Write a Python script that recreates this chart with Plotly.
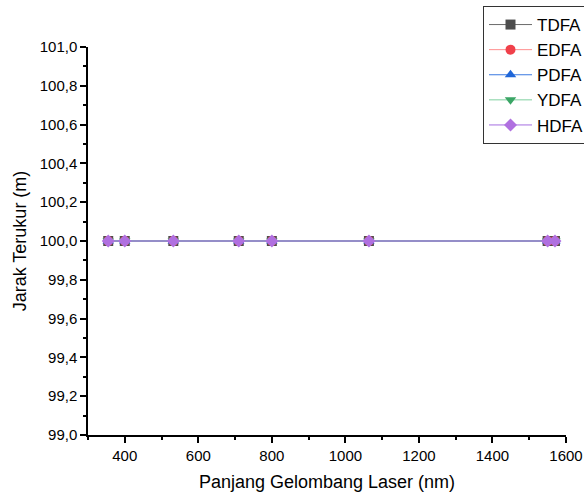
import plotly.graph_objects as go

wavelengths = [355, 400, 532, 710, 800, 1064, 1550, 1570]
series_names = ["TDFA", "EDFA", "PDFA", "YDFA", "HDFA"]
tdfa = [100.0, 100.0, 100.0, 100.0, 100.0, 100.0, 100.0, 100.0]
edfa = [100.0, 100.0, 100.0, 100.0, 100.0, 100.0, 100.0, 100.0]
pdfa = [100.0, 100.0, 100.0, 100.0, 100.0, 100.0, 100.0, 100.0]
ydfa = [100.0, 100.0, 100.0, 100.0, 100.0, 100.0, 100.0, 100.0]
hdfa = [100.0, 100.0, 100.0, 100.0, 100.0, 100.0, 100.0, 100.0]
x_ticks = [400, 600, 800, 1000, 1200, 1400, 1600]
y_ticks = [99.0, 99.2, 99.4, 99.6, 99.8, 100.0, 100.2, 100.4, 100.6, 100.8, 101.0]

series_values = [tdfa, edfa, pdfa, ydfa, hdfa]
marker_colors = ["#4d4d4d", "#f0404a", "#1f66d8", "#3aa565", "#b070e0"]
line_colors = ["#6b6b6b", "#ff8f8f", "#3a78e0", "#7fd09f", "#a56de0"]
symbols = ["square", "circle", "triangle-up", "triangle-down", "diamond"]

fig = go.Figure()
for name, vals, mc, lc, sym in zip(series_names, series_values, marker_colors, line_colors, symbols):
    fig.add_trace(go.Scatter(
        x=wavelengths, y=vals, name=name, mode="lines+markers",
        line=dict(color=lc, width=1),
        marker=dict(symbol=sym, size=10, color=mc, line=dict(width=0)),
    ))

fig.update_layout(
    width=584, height=493,
    margin=dict(l=88, r=18, t=47, b=58, autoexpand=False),
    paper_bgcolor="white", plot_bgcolor="white",
    separators=",.",
    font=dict(family="Liberation Sans, Arial, sans-serif", color="black"),
    showlegend=True,
    legend=dict(
        x=(483 - 88) / 478, y=1 + (47 - 6) / 388, xanchor="left", yanchor="top",
        bordercolor="#333333", borderwidth=1, bgcolor="white",
        font=dict(size=17), itemwidth=43, tracegroupgap=0,
    ),
)
fig.update_xaxes(
    range=[300, 1600], tickvals=x_ticks,
    showline=True, linecolor="black", linewidth=1.5, mirror=False,
    ticks="outside", ticklen=6, tickwidth=1.5, tickcolor="black",
    minor=dict(dtick=100, ticks="outside", ticklen=3, tickwidth=1.5, tickcolor="black"),
    showgrid=False, zeroline=False,
    tickfont=dict(size=15),
    title=dict(text="Panjang Gelombang Laser (nm)", font=dict(size=18), standoff=13),
)
fig.update_yaxes(
    range=[99.0, 101.0], tickvals=y_ticks, tickformat=".1f",
    showline=True, linecolor="black", linewidth=1.5, mirror=False,
    ticks="outside", ticklen=6, tickwidth=1.5, tickcolor="black",
    minor=dict(dtick=0.1, ticks="outside", ticklen=3, tickwidth=1.5, tickcolor="black"),
    showgrid=False, zeroline=False,
    tickfont=dict(size=15),
    title=dict(text="Jarak Terukur (m)", font=dict(size=18), standoff=8),
)

fig.write_html("out.html", config={"displayModeBar": False},
               post_script="document.body.style.margin='0';document.body.style.overflow='hidden';")
